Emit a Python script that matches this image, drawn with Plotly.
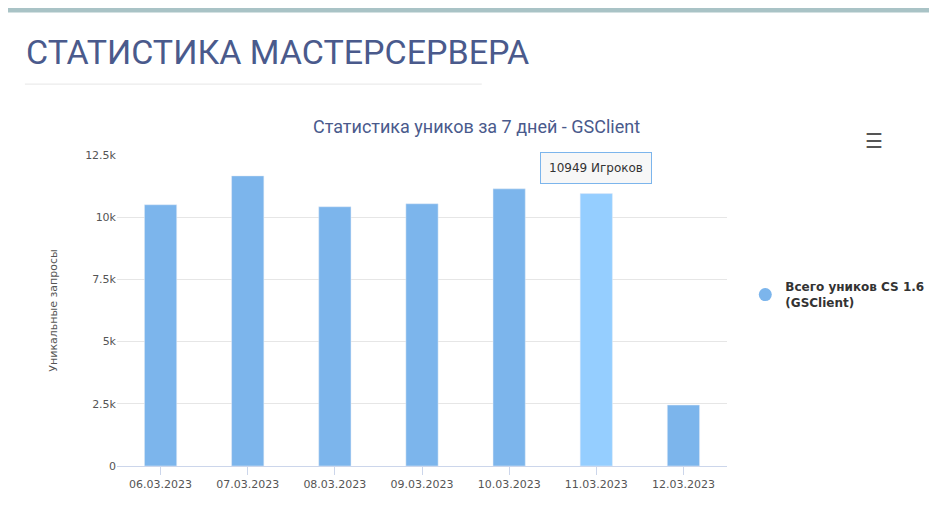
import plotly.graph_objects as go

dates = ["06.03.2023","07.03.2023","08.03.2023","09.03.2023","10.03.2023","11.03.2023","12.03.2023"]
values = [10500, 11660, 10420, 10540, 11140, 10949, 2450]
hover_index = 5
series_name = "<b>Всего уников CS 1.6<br>(GSClient)</b>"
tick_vals = [0, 2500, 5000, 7500, 10000, 12500]
tick_text = ["0", "2.5k", "5k", "7.5k", "10k", "12.5k"]

colors = ["#7cb5ec"] * len(dates)
colors[hover_index] = "#95ceff"

fig = go.Figure()
fig.add_trace(go.Bar(x=dates, y=values, marker_color=colors, width=0.37, showlegend=False))
fig.add_trace(go.Scatter(x=[None], y=[None], mode="markers", name=series_name,
                         marker=dict(color="#7cb5ec", size=13, symbol="circle")))

fig.add_annotation(x=dates[hover_index], y=values[hover_index], yshift=26, text="10949 Игроков",
                   showarrow=False, bgcolor="rgba(247,247,247,0.95)", bordercolor="#7cb5ec",
                   borderwidth=1, borderpad=8, font=dict(size=12, color="#333333", family="DejaVu Sans"))
fig.add_annotation(xref="paper", yref="paper", x=-0.153, y=1.33, xanchor="left", yanchor="middle",
                   text="СТАТИСТИКА МАСТЕРСЕРВЕРА", showarrow=False,
                   font=dict(size=34, color="#4a5a8c", family="Liberation Sans Narrow, Roboto"))
fig.add_shape(type="line", xref="paper", yref="paper", x0=-0.151, x1=0.598, y0=1.228, y1=1.228,
              line=dict(color="#e6e6e6", width=1))
fig.add_shape(type="rect", xref="paper", yref="paper", x0=-0.2, x1=1.4, y0=1.458, y1=1.475,
              line_width=0, fillcolor="#a9c3c6")
fig.add_annotation(xref="paper", yref="paper", x=1.259, y=1.096, text="☰", showarrow=False,
                   font=dict(size=20, color="#555555"))

fig.update_layout(
    width=937, height=524, margin=dict(l=109, r=218, t=147, b=66),
    paper_bgcolor="white", plot_bgcolor="white",
    title=dict(text="Статистика уников за 7 дней - GSClient", x=0.5, xanchor="center", y=0.786,
               font=dict(size=18, color="#4a5a8c", family="Liberation Sans Narrow, Roboto")),
    xaxis=dict(showline=True, linecolor="#ccd6eb", ticks="outside", tickcolor="#ccd6eb", ticklen=8,
               tickfont=dict(size=11, color="#555555", family="DejaVu Sans"), showgrid=False),
    yaxis=dict(range=[0, 12500], tickvals=tick_vals, ticktext=tick_text, gridcolor="#e6e6e6",
               tickfont=dict(size=11, color="#555555", family="DejaVu Sans"), zeroline=False,
               title=dict(text="Уникальные запросы", font=dict(size=11, color="#555555", family="DejaVu Sans"), standoff=25)),
    legend=dict(x=1.03, y=0.55, xanchor="left", yanchor="middle",
                font=dict(size=12, color="#333333", family="DejaVu Sans")),
)
fig.write_html("out.html")
